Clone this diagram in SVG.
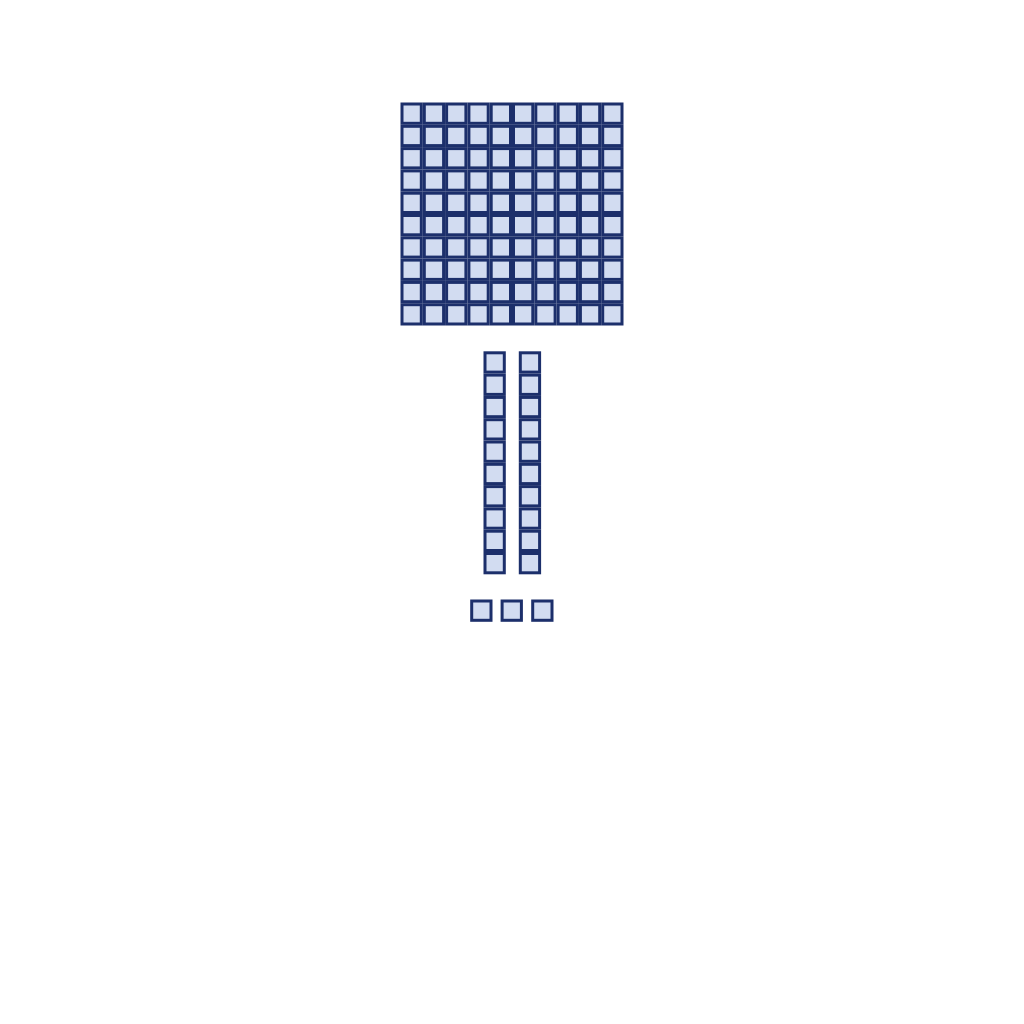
<svg xmlns="http://www.w3.org/2000/svg" width="1024" height="1024" viewBox="0 0 1024 1024">
<style>
.c{fill:#d2dcf1;stroke:#1c2f6b;stroke-width:3}
</style>
<defs>
<rect id="u" class="c" x="1.5" y="1.5" width="19.3" height="19.3"/>
<g id="row">
<use href="#u" x="0"/><use href="#u" x="22.3"/><use href="#u" x="44.6"/><use href="#u" x="66.9"/><use href="#u" x="89.2"/>
<use href="#u" x="111.5"/><use href="#u" x="133.8"/><use href="#u" x="156.1"/><use href="#u" x="178.4"/><use href="#u" x="200.7"/>
</g>
<g id="col">
<use href="#u" y="0"/><use href="#u" y="22.3"/><use href="#u" y="44.6"/><use href="#u" y="66.9"/><use href="#u" y="89.2"/>
<use href="#u" y="111.5"/><use href="#u" y="133.8"/><use href="#u" y="156.1"/><use href="#u" y="178.4"/><use href="#u" y="200.7"/>
</g>
</defs>
<rect width="1024" height="1024" fill="#ffffff"/>
<g id="hundred" transform="translate(400.5,102.5)">
<use href="#row" y="0"/><use href="#row" y="22.3"/><use href="#row" y="44.6"/><use href="#row" y="66.9"/><use href="#row" y="89.2"/>
<use href="#row" y="111.5"/><use href="#row" y="133.8"/><use href="#row" y="156.1"/><use href="#row" y="178.4"/><use href="#row" y="200.7"/>
</g>
<g id="ten1" transform="translate(483.5,351.3)"><use href="#col"/></g>
<g id="ten2" transform="translate(518.8,351.3)"><use href="#col"/></g>
<g id="one1" transform="translate(470.2,599.5)"><use href="#u"/></g>
<g id="one2" transform="translate(500.6,599.5)"><use href="#u"/></g>
<g id="one3" transform="translate(531.2,599.5)"><use href="#u"/></g>
<g id="connectors"></g>
</svg>
